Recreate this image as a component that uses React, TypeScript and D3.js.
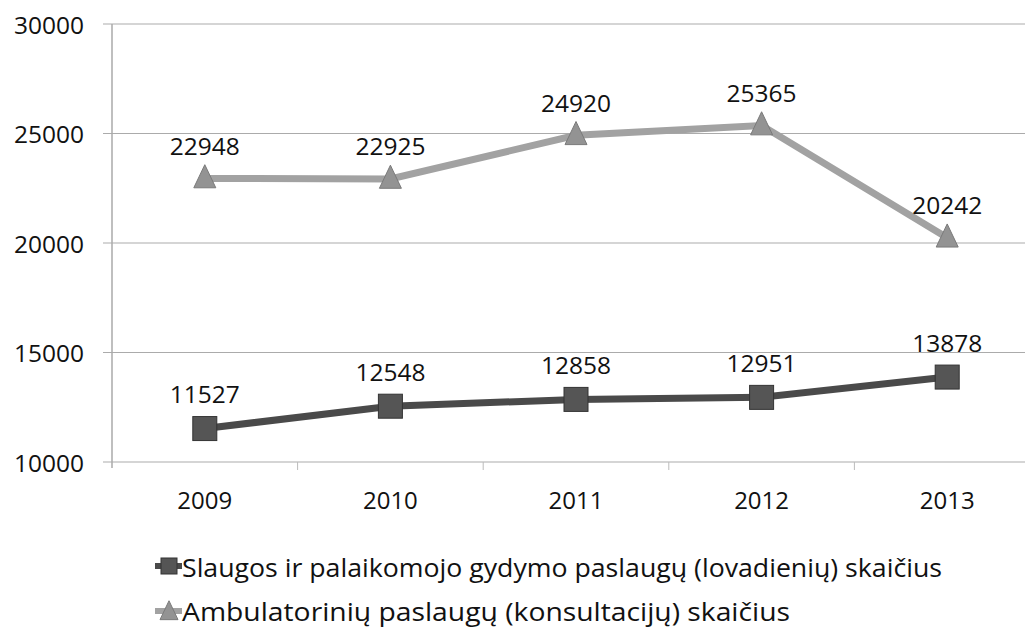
import React from "react";
import * as d3 from "d3";

const years = ["2009", "2010", "2011", "2012", "2013"];
const slaugos = [11527, 12548, 12858, 12951, 13878];
const ambulatoriniu = [22948, 22925, 24920, 25365, 20242];
const yTicks = [10000, 15000, 20000, 25000, 30000];
const seriesNames = [
  "Slaugos ir palaikomojo gydymo paslaugų (lovadienių) skaičius",
  "Ambulatorinių paslaugų (konsultacijų) skaičius",
];

const W = 1025;
const H = 642;
const left = 112;
const right = 1040;
const top = 24;
const bottom = 462;
const font = "'Open Sans', sans-serif";

export default function App() {
  const x = d3.scaleBand<string>().domain(years).range([left, right]);
  const y = d3.scaleLinear().domain([10000, 30000]).range([bottom, top]);
  const cx = (d: string) => (x(d) as number) + x.bandwidth() / 2;
  const line = d3
    .line<number>()
    .x((_, i) => cx(years[i]))
    .y((v) => y(v));

  const tri = (px: number, py: number, s: number) =>
    `M${px},${py - s * 1.25} L${px + s},${py + s * 0.85} L${px - s},${py + s * 0.85} Z`;

  return (
    <svg
      width={W}
      height={H}
      style={{ position: "absolute", left: 0, top: 0, background: "#fff" }}
    >
      <rect x={0} y={0} width={W} height={H} fill="#fff" />
      {yTicks.map((t) => (
        <g key={t}>
          <line x1={left - 9} x2={right} y1={y(t)} y2={y(t)} stroke="#ababab" strokeWidth={1.2} />
          <text
            x={84}
            y={y(t)}
            textAnchor="end"
            dominantBaseline="central"
            fontFamily={font}
            fontSize={24.5}
            fill="#111"
          >
            {t}
          </text>
        </g>
      ))}
      <line x1={left} x2={left} y1={top} y2={bottom + 6} stroke="#aaa" strokeWidth={1.5} />
      {years.map((yr) => (
        <g key={yr}>
          <line
            x1={(x(yr) as number) + x.bandwidth()}
            x2={(x(yr) as number) + x.bandwidth()}
            y1={bottom}
            y2={bottom + 8}
            stroke="#bbb"
          />
          <text
            x={cx(yr)}
            y={499}
            textAnchor="middle"
            dominantBaseline="central"
            fontFamily={font}
            fontSize={24}
            fill="#111"
          >
            {yr}
          </text>
        </g>
      ))}

      {/* series 2 (triangles) */}
      <path d={line(ambulatoriniu) || ""} fill="none" stroke="#a2a2a2" strokeWidth={7} />
      {ambulatoriniu.map((v, i) => (
        <g key={"a" + i}>
          <path d={tri(cx(years[i]), y(v), 11)} fill="#939393" stroke="#7a7a7a" strokeWidth={1} />
          <text
            x={cx(years[i])}
            y={y(v) - 33}
            textAnchor="middle"
            dominantBaseline="central"
            fontFamily={font}
            fontSize={24.5}
            fill="#111"
          >
            {v}
          </text>
        </g>
      ))}

      {/* series 1 (squares) */}
      <path d={line(slaugos) || ""} fill="none" stroke="#4a4a4a" strokeWidth={7} />
      {slaugos.map((v, i) => (
        <g key={"s" + i}>
          <rect
            x={cx(years[i]) - 12}
            y={y(v) - 12}
            width={24}
            height={24}
            fill="#555"
            stroke="#333"
            strokeWidth={1}
          />
          <text
            x={cx(years[i])}
            y={y(v) - 35}
            textAnchor="middle"
            dominantBaseline="central"
            fontFamily={font}
            fontSize={24.5}
            fill="#111"
          >
            {v}
          </text>
        </g>
      ))}

      {/* legend */}
      <g>
        <line x1={155} x2={182} y1={566} y2={566} stroke="#4a4a4a" strokeWidth={6} />
        <rect x={161} y={558} width={16} height={16} fill="#555" stroke="#333" />
        <text x={182} y={567} dominantBaseline="central" fontFamily={font} fontSize={25} fill="#111" textLength={760} lengthAdjust="spacingAndGlyphs">
          {seriesNames[0]}
        </text>
        <line x1={155} x2={182} y1={611} y2={611} stroke="#a2a2a2" strokeWidth={6} />
        <path d={tri(169, 612, 9)} fill="#939393" stroke="#7a7a7a" />
        <text x={182} y={611} dominantBaseline="central" fontFamily={font} fontSize={25} fill="#111" textLength={608} lengthAdjust="spacingAndGlyphs">
          {seriesNames[1]}
        </text>
      </g>
    </svg>
  );
}
